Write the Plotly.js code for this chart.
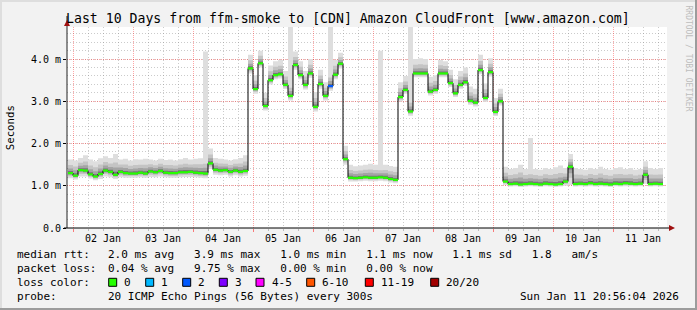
<!DOCTYPE html>
<html><head><meta charset="utf-8">
<script src="https://cdn.plot.ly/plotly-3.0.1.min.js"></script>
<style>
html,body{margin:0;padding:0;background:#f2f2f2;}
#wrap{position:relative;width:697px;height:310px;overflow:hidden;}
#chart{position:absolute;left:0;top:0;width:697px;height:310px;}
.b{position:absolute;}
</style></head><body>
<div id="wrap"><div id="chart"></div>
<div class="b" style="left:0;top:0;width:697px;height:2px;background:#dedede"></div>
<div class="b" style="left:0;top:0;width:2px;height:310px;background:#dedede"></div>
<div class="b" style="right:0;top:0;width:2px;height:310px;background:#9c9c9c"></div>
<div class="b" style="left:0;bottom:0;width:697px;height:2px;background:#9c9c9c"></div>
</div>
<script>
// ---- data (milliseconds, one value every 2 hours, first sample 2026-01-01 22:00) ----
const firstSample = [2026, 0, 1, 22, 0];
const stepHours = 2;
const rangeStart = '2026-01-01 21:36';
const rangeEnd = '2026-01-11 21:36';

const median = [
 1.30,1.24,1.37,1.36,1.27,1.22,1.28,1.36,1.33,1.26,
 1.33,1.30,1.29,1.29,1.31,1.29,1.34,1.32,1.35,1.31,
 1.30,1.30,1.32,1.32,1.33,1.31,1.30,1.29,1.53,1.38,
 1.36,1.37,1.33,1.36,1.33,1.35,3.78,3.29,3.90,2.89,
 3.50,3.62,3.64,3.39,3.13,3.86,3.62,3.39,3.66,2.87,
 3.41,3.13,3.36,3.63,3.89,1.63,1.19,1.18,1.19,1.20,
 1.19,1.19,1.20,1.19,1.16,1.14,3.10,3.27,2.76,3.66,
 3.66,3.66,3.23,3.27,3.66,3.66,3.43,3.19,3.39,3.45,
 3.01,2.97,3.74,3.08,3.69,2.75,3.00,1.10,1.04,1.05,
 1.03,1.04,1.05,1.04,1.03,1.05,1.04,1.03,1.04,1.10,
 1.45,1.04,1.05,1.04,1.06,1.04,1.05,1.04,1.03,1.05,
 1.04,1.06,1.05,1.04,1.05,1.26,1.04,1.05,1.04,1.04
];
const smokeHigh = [
 1.62,1.60,1.66,1.72,1.62,1.58,1.65,1.70,1.66,1.75,
 1.62,1.64,1.60,1.63,1.62,1.64,1.62,1.60,1.64,1.61,
 1.62,1.60,1.63,1.66,1.62,1.64,1.65,1.68,1.88,1.66,
 1.64,1.62,1.60,1.63,1.66,1.72,4.10,3.62,4.20,3.20,
 3.85,3.95,3.98,3.72,3.45,4.18,3.95,3.72,4.00,3.22,
 3.75,3.45,3.70,3.98,4.15,1.95,1.50,1.46,1.48,1.50,
 1.52,1.50,1.48,1.50,1.47,1.45,3.45,3.60,3.10,4.00,
 4.02,4.00,3.58,3.62,3.98,3.95,3.75,3.52,3.72,3.80,
 3.35,3.30,4.10,3.42,4.02,3.08,3.30,1.45,1.40,1.42,
 1.50,1.40,1.42,1.40,1.38,1.42,1.40,1.44,1.48,1.42,
 1.75,1.42,1.40,1.38,1.42,1.40,1.45,1.40,1.38,1.42,
 1.44,1.40,1.42,1.38,1.40,1.58,1.42,1.40,1.42,1.42
];
const smokeLow = [
 1.18,1.15,1.22,1.22,1.17,1.13,1.16,1.22,1.20,1.16,
 1.20,1.19,1.19,1.19,1.20,1.19,1.21,1.20,1.22,1.20,
 1.19,1.19,1.20,1.21,1.21,1.20,1.19,1.18,1.40,1.26,
 1.25,1.26,1.22,1.25,1.22,1.24,3.66,3.18,3.80,2.78,
 3.40,3.52,3.54,3.29,3.02,3.75,3.52,3.28,3.56,2.76,
 3.30,3.02,3.25,3.52,3.78,1.50,1.10,1.10,1.11,1.12,
 1.11,1.11,1.12,1.11,1.08,1.06,3.00,3.18,2.66,3.57,
 3.57,3.57,3.14,3.18,3.57,3.57,3.34,3.10,3.30,3.36,
 2.92,2.88,3.64,2.99,3.59,2.65,2.90,1.02,0.98,0.99,
 0.97,0.98,0.99,0.98,0.97,0.99,0.98,0.97,0.98,1.00,
 1.02,0.98,0.99,0.98,0.99,0.98,0.99,0.98,0.97,0.99,
 0.98,0.99,0.99,0.98,0.99,1.05,0.98,0.99,0.98,0.98
];
// isolated max-rtt spikes (light smoke)
const spikeIdx = [27, 44, 52, 62, 68, 92];
const spikeTop = [4.18, 4.76, 4.76, 4.20, 4.76, 2.13];
// samples with packet loss (lost pings out of 20)
const lossIdx = [52];
const lossPings = [2];

const yTickVals = [0, 1, 2, 3, 4];
const yTickText = ['0.0', '1.0 m', '2.0 m', '3.0 m', '4.0 m'];
const lossLabels = ['0', '1', '2', '3', '4-5', '6-10', '11-19', '20/20'];
const lossColors = ['#26ff00', '#00b8ff', '#0059ff', '#7e00ff', '#ff00ff', '#ff5500', '#ff0000', '#a10000'];
const lossUpper = [0, 1, 2, 3, 5, 10, 19, 20];
const titleText = 'Last 10 Days from ffm-smoke to [CDN] Amazon CloudFront [www.amazon.com]';
const rttLine = '2.0 ms avg   3.9 ms max   1.0 ms min   1.1 ms now   1.1 ms sd   1.8   am/s';
const lossLine = '0.04 % avg   9.75 % max   0.00 % min   0.00 % now';
const probeLine = '20 ICMP Echo Pings (56 Bytes) every 300s';
const stampLine = 'Sun Jan 11 20:56:04 2026';

// ---- build ----
const t0 = Date.UTC(...firstSample);
const fmt = ms => new Date(ms).toISOString().slice(0, 19).replace('T', ' ');
const times = median.map((_, i) => fmt(t0 + i * stepHours * 3600e3));
const MONO = 'DejaVu Sans Mono';
const nb = s => s.replace(/ /g, '\u00a0');

const traces = [];
function band(frac, color, spikes) {
  const up = median.map((m, i) => m + frac * (smokeHigh[i] - m));
  if (spikes) spikeIdx.forEach((k, j) => { up[k] = spikeTop[j]; });
  const dn = median.map((m, i) => m - frac * (m - smokeLow[i]));
  traces.push({x: times, y: dn, type: 'scatter', mode: 'lines', line: {width: 0, shape: 'hv'}, hoverinfo: 'skip', showlegend: false});
  traces.push({x: times, y: up, type: 'scatter', mode: 'lines', line: {width: 0, shape: 'hv'}, fill: 'tonexty', fillcolor: color, hoverinfo: 'skip', showlegend: false});
}
band(1.0, '#dedede', true);
band(0.6, '#c4c4c4', false);
band(0.35, '#a4a4a4', false);
band(0.15, '#767676', false);

traces.push({x: times, y: median, type: 'scatter', mode: 'lines', line: {color: '#000', width: 1, shape: 'hv'}, hoverinfo: 'skip', showlegend: false});

function lossClass(i) {
  const k = lossIdx.indexOf(i);
  const p = k < 0 ? 0 : lossPings[k];
  return lossUpper.findIndex(u => p <= u);
}
lossColors.forEach((c, ci) => {
  const xs = [], ys = [];
  for (let i = 0; i < median.length - 1; i++) {
    if (lossClass(i) === ci) { xs.push(times[i], times[i + 1], null); ys.push(median[i], median[i], null); }
  }
  if (xs.length) traces.push({x: xs, y: ys, type: 'scatter', mode: 'lines', line: {color: c, width: 2.2}, connectgaps: false, hoverinfo: 'skip', showlegend: false});
});

// pixel helpers (plot area: x 67..667, y 27..228)
const PL = 67, PW = 600, PB = 228, PH = 201;
const px = p => (p - PL) / PW;
const py = p => (PB - p) / PH;

const ann = [];
function txt(text, x, y, opts) {
  ann.push(Object.assign({text: nb(text), xref: 'paper', yref: 'paper', x: px(x), y: py(y), showarrow: false,
    xanchor: 'left', yanchor: 'middle', font: {family: MONO, size: 11, color: '#000'}}, opts || {}));
}
txt(titleText, 348, 19, {xanchor: 'center', font: {family: MONO, size: 13.2, color: '#000'}});
txt('Seconds', 10.7, 127.5, {xanchor: 'center', textangle: -90, font: {family: MONO, size: 10.7, color: '#000'}});
txt('RRDTOOL / TOBI OETIKER', 688, 58.5, {xanchor: 'center', textangle: 90, font: {family: MONO, size: 8, color: '#bdbdbd'}});
txt('median rtt:', 15, 254.3);
txt(rttLine, 106.3, 254.3);
txt('packet loss:', 15, 268.3);
txt(lossLine, 106.3, 268.3);
txt('loss color:', 15, 282.3);
txt('probe:', 15, 296);
txt(probeLine, 106.3, 296);
txt(stampLine, 681, 296, {xanchor: 'right'});

const shapes = [];
const boxX = [108.7, 145.7, 182.7, 219.3, 256, 306.7, 365.3, 430.7];
lossLabels.forEach((l, i) => {
  shapes.push({type: 'rect', xref: 'paper', yref: 'paper', x0: px(boxX[i]), x1: px(boxX[i] + 8), y0: py(286.3), y1: py(278.3),
    fillcolor: lossColors[i], line: {color: '#000', width: 1}});
  txt(l, boxX[i] + 13.5, 282.3);
});
// axis extensions + arrows
shapes.push({type: 'line', xref: 'paper', yref: 'paper', x0: px(67), x1: px(67), y0: py(228), y1: py(16), line: {color: '#222', width: 1}});
shapes.push({type: 'line', xref: 'paper', yref: 'paper', x0: px(64), x1: px(672), y0: py(228), y1: py(228), line: {color: '#000', width: 1}});
shapes.push({type: 'path', xref: 'paper', yref: 'paper',
  path: `M ${px(669)},${py(231)} L ${px(675)},${py(228)} L ${px(669)},${py(225)} Z`, fillcolor: '#a01010', line: {width: 0}});
shapes.push({type: 'path', xref: 'paper', yref: 'paper',
  path: `M ${px(64)},${py(26)} L ${px(67)},${py(20)} L ${px(70)},${py(26)} Z`, fillcolor: '#a01010', line: {width: 0}});

const layout = {
  width: 697, height: 310,
  margin: {l: 67, r: 30, t: 27, b: 82, pad: 0},
  paper_bgcolor: '#f2f2f2', plot_bgcolor: '#ffffff',
  showlegend: false, hovermode: false,
  xaxis: {
    type: 'date', range: [rangeStart, rangeEnd], tick0: '2026-01-02', dtick: 86400000,
    tickformat: '%d %b', ticklabelmode: 'period', ticklabelstandoff: -2,
    showgrid: true, gridcolor: 'rgba(255,0,0,0.35)', griddash: '1px,1px', gridwidth: 1,
    ticks: 'outside', ticklen: 3, tickcolor: 'rgba(255,0,0,0.5)',
    tickfont: {family: MONO, size: 10, color: '#000'},
    showline: false, zeroline: false, fixedrange: true,
    minor: {dtick: 6 * 3600e3, showgrid: true, gridcolor: 'rgba(140,140,140,0.45)', griddash: '1px,2px', ticks: 'outside', ticklen: 2, tickcolor: '#bbbbbb'}
  },
  yaxis: {
    range: [0, 4.76], tickmode: 'array', tickvals: yTickVals, ticktext: yTickText,
    showgrid: true, gridcolor: 'rgba(255,0,0,0.35)', griddash: '1px,1px', gridwidth: 1,
    ticks: 'outside', ticklen: 3, tickcolor: '#000',
    tickfont: {family: MONO, size: 10, color: '#000'},
    showline: false, zeroline: false, fixedrange: true,
    minor: {tickmode: 'linear', tick0: 0, dtick: 0.2, showgrid: true, gridcolor: 'rgba(140,140,140,0.45)', griddash: '1px,2px'}
  },
  annotations: ann,
  shapes: shapes
};
Plotly.newPlot('chart', traces, layout, {staticPlot: true, displayModeBar: false});
</script>
</body></html>
